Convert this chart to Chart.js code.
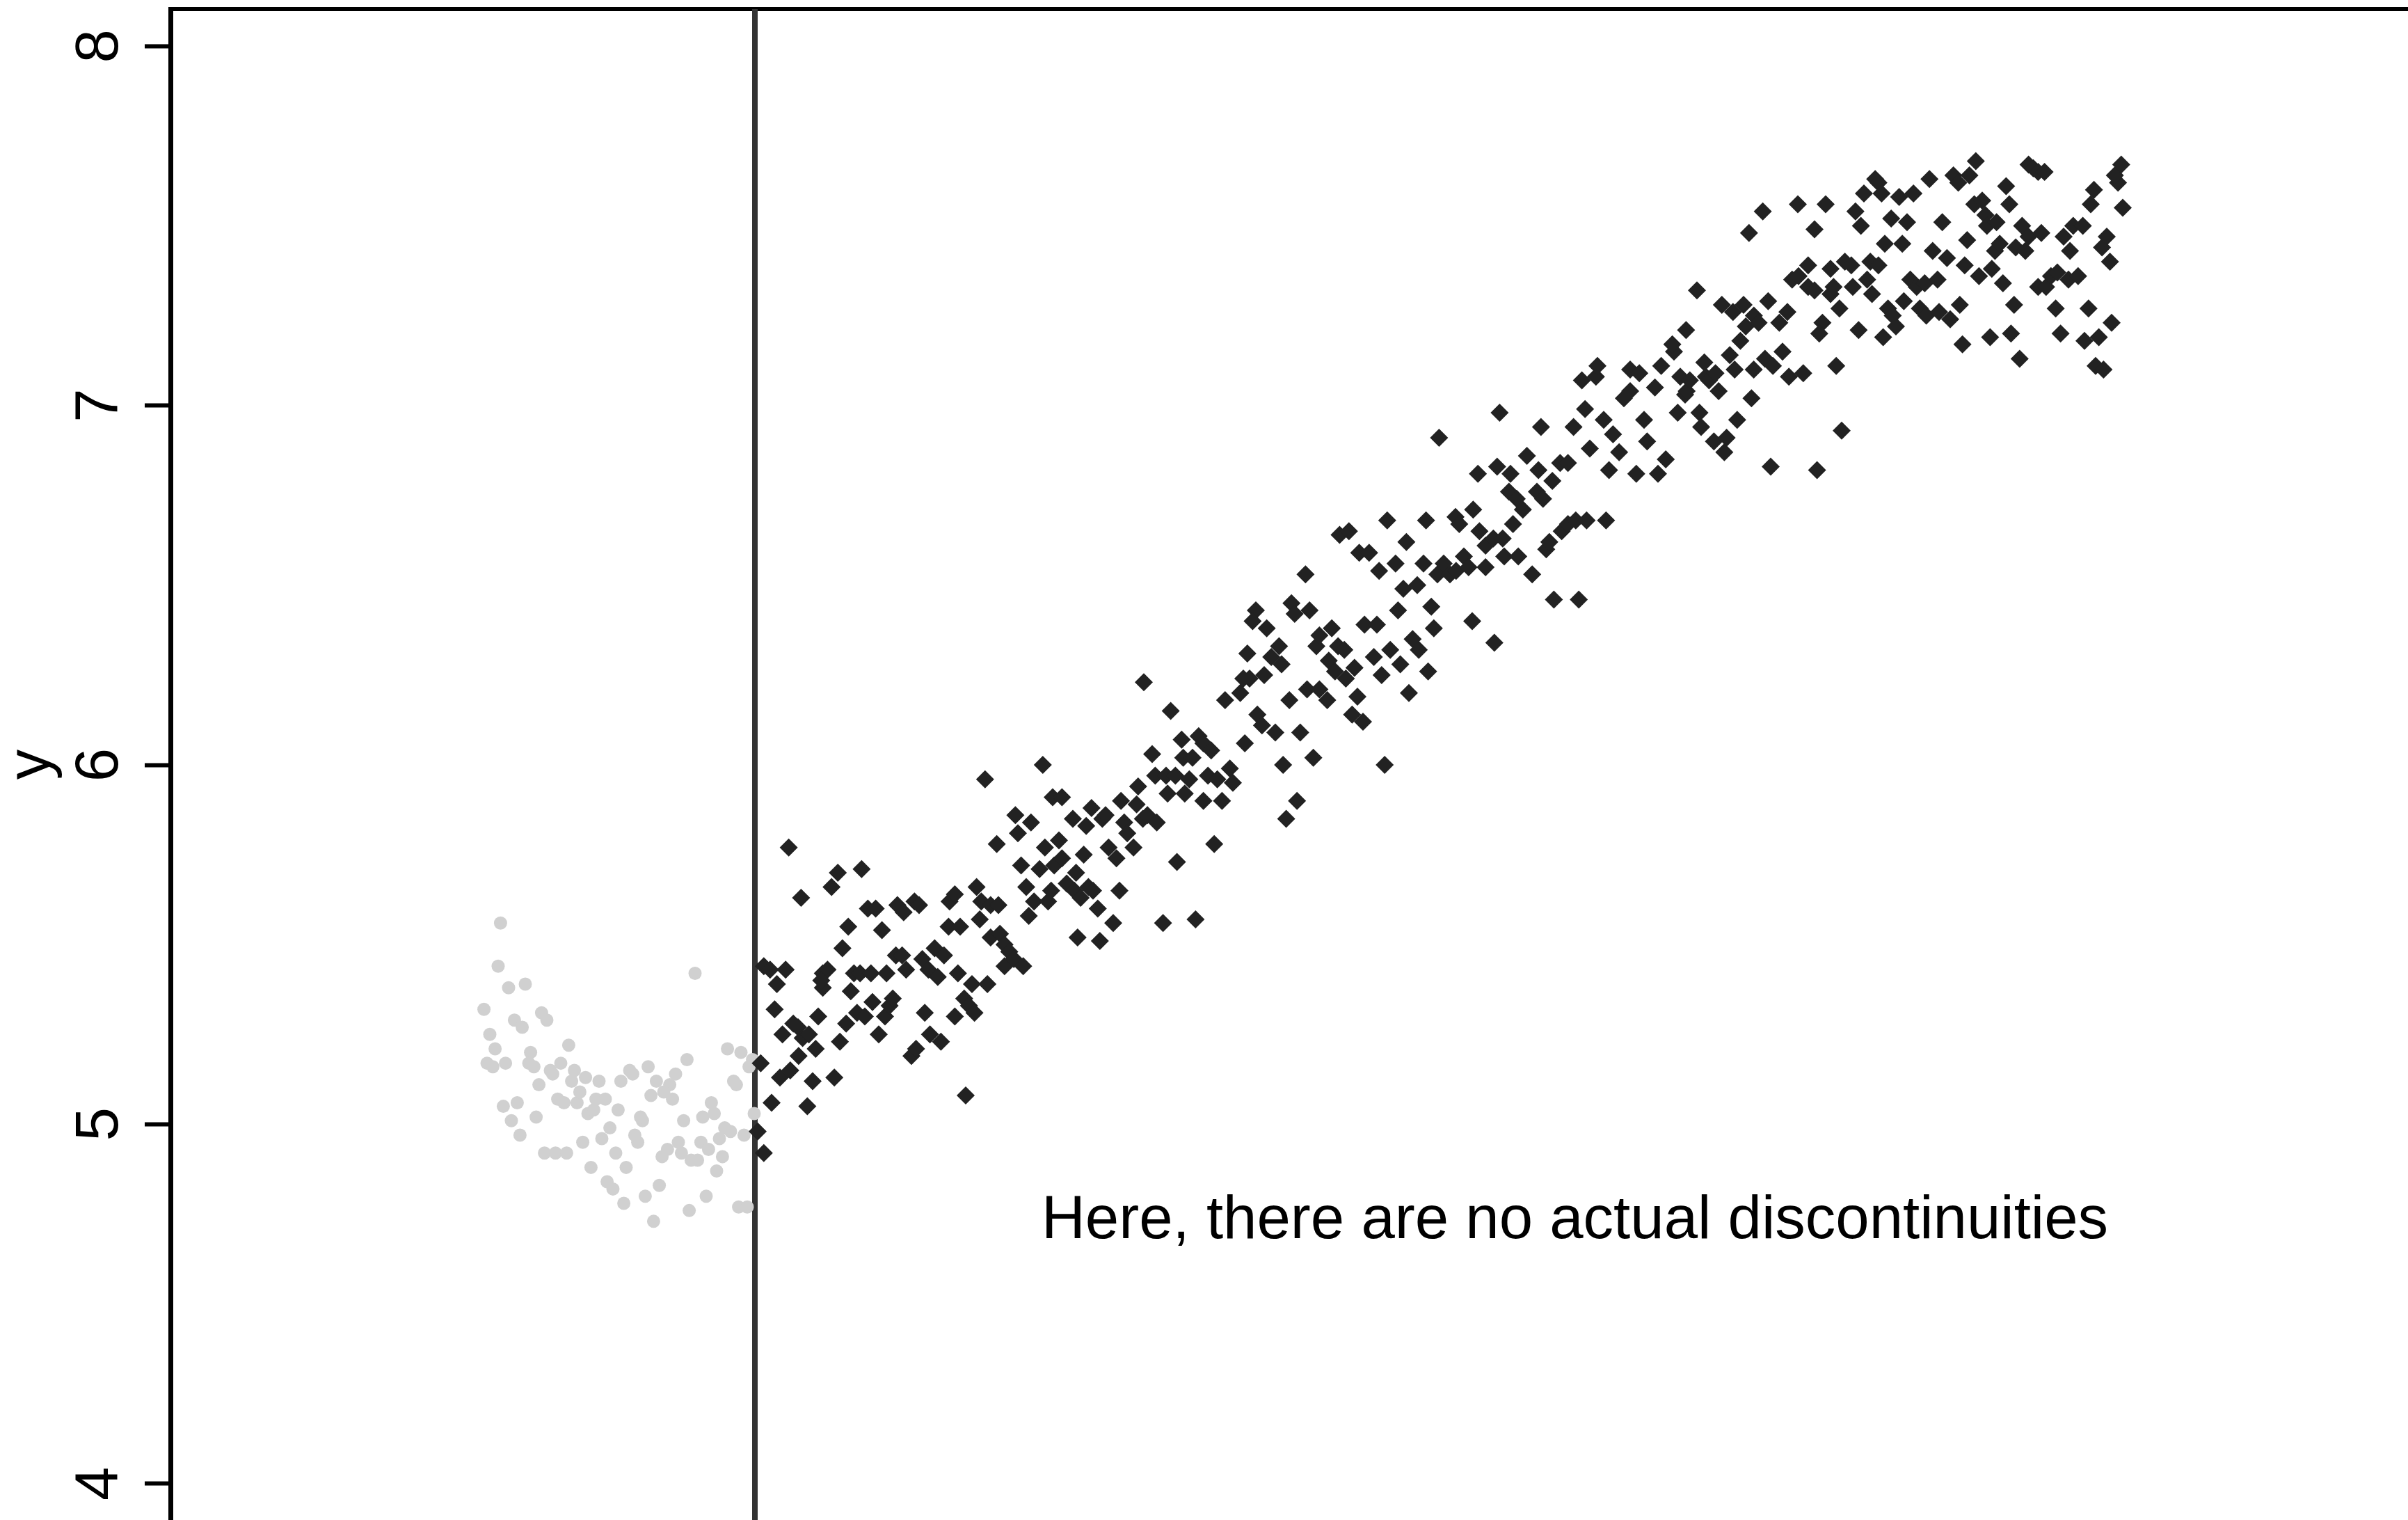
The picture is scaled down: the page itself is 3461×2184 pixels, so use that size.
<!DOCTYPE html>
<html>
<head>
<meta charset="utf-8">
<script src="https://cdn.jsdelivr.net/npm/chart.js@4/dist/chart.umd.min.js"></script>
<style>html,body{margin:0;padding:0;background:#fff;overflow:hidden}canvas{display:block}</style>
</head>
<body>
<canvas id="c" width="3461" height="2184"></canvas>
<script>
// Left of the cutoff (light grey circles): [x, y]
const leftPoints = [
[-18.28,5.56],[-18.45,5.44],[-16.50,5.39],[-17.70,5.38],[-19.47,5.32],[-17.28,5.29],[-15.33,5.31],[-14.95,5.29],
[-16.72,5.27],[-19.05,5.25],[-18.67,5.21],[-13.38,5.22],[-16.12,5.20],[-19.25,5.17],[-18.83,5.16],[-17.92,5.17],
[-16.25,5.17],[-15.88,5.16],[-13.95,5.17],[-14.70,5.15],[-14.53,5.14],[-12.97,5.15],[-13.17,5.12],[-12.17,5.13],
[-11.20,5.12],[-15.52,5.11],[-9.63,5.12],[-9.00,5.15],[-8.78,5.14],[-7.67,5.16],[-4.88,5.18],[-5.70,5.14],
[-7.08,5.12],[-6.12,5.11],[-6.55,5.09],[-7.47,5.08],[-5.92,5.07],[-4.30,5.42],[-1.97,5.21],[-1.00,5.20],
[-0.17,5.18],[-0.42,5.16],[-1.53,5.12],[-1.33,5.11],[-3.13,5.06],[-2.92,5.03],[-3.75,5.02],[-5.12,5.01],
[-0.05,5.03],[-2.17,4.99],[-1.75,4.98],[-0.78,4.97],[-2.55,4.96],[-3.88,4.95],[-3.33,4.93],[-2.33,4.91],
[-2.75,4.87],[-5.50,4.95],[-6.28,4.93],[-6.67,4.91],[-5.28,4.92],[-4.58,4.90],[-4.12,4.90],[-3.50,4.80],
[-1.17,4.77],[-0.55,4.77],[-4.72,4.76],[-6.87,4.83],[-7.88,4.80],[-7.28,4.73],[-9.42,4.78],[-10.62,4.84],
[-10.20,4.82],[-9.25,4.88],[-11.78,4.88],[-10.00,4.92],[-12.37,4.95],[-11.00,4.96],[-8.42,4.95],[-8.63,4.97],
[-10.42,4.99],[-8.08,5.01],[-8.22,5.02],[-9.83,5.04],[-12.00,5.03],[-11.58,5.04],[-12.78,5.06],[-12.58,5.09],
[-11.42,5.07],[-10.75,5.07],[-14.17,5.07],[-13.72,5.06],[-15.12,4.92],[-14.33,4.92],[-13.53,4.92],[-18.08,5.05],
[-17.08,5.06],[-17.50,5.01],[-15.72,5.02],[-16.88,4.97]
];

// Right of the cutoff (black diamonds): [x, y]
const rightPoints = [
[0.64,4.92],[0.20,4.98],[0.42,5.17],[1.20,5.06],[1.80,5.13],[2.54,5.15],[3.77,5.05],[4.15,5.12],[5.71,5.13],
[3.14,5.19],[1.98,5.25],[2.76,5.28],[3.10,5.27],[3.43,5.24],[3.88,5.25],[4.37,5.21],[1.42,5.32],[4.55,5.30],
[6.11,5.23],[6.56,5.28],[0.64,5.44],[1.09,5.43],[2.21,5.43],[1.58,5.39],[2.43,5.77],[3.32,5.63],[5.51,5.66],
[5.96,5.70],[7.67,5.71],[4.88,5.42],[5.22,5.43],[4.88,5.38],[4.77,5.40],[6.29,5.49],[6.71,5.55],[6.89,5.37],
[7.12,5.42],[7.56,5.42],[8.34,5.42],[9.46,5.42],[7.34,5.31],[7.90,5.30],[8.45,5.34],[8.90,5.25],[9.13,5.54],
[8.12,5.60],[8.68,5.60],[9.35,5.30],[9.68,5.33],[9.91,5.35],[10.24,5.61],[10.69,5.59],[11.47,5.62],[11.80,5.61],
[10.13,5.47],[10.58,5.47],[10.87,5.43],[12.03,5.46],[12.47,5.43],[12.92,5.49],[13.59,5.47],[13.14,5.41],
[11.25,5.19],[11.58,5.21],[12.21,5.31],[12.58,5.25],[13.37,5.23],[13.99,5.62],[14.37,5.64],[13.92,5.55],
[14.75,5.55],[14.59,5.42],[14.37,5.30],[15.04,5.35],[15.38,5.33],[15.78,5.31],[15.15,5.08],[15.60,5.39],
[16.71,5.39],[15.93,5.66],[16.27,5.62],[16.16,5.57],[16.94,5.61],[17.50,5.61],[16.94,5.52],[17.61,5.53],
[17.94,5.50],[18.28,5.48],[17.94,5.44],[18.61,5.46],[19.28,5.44],[16.54,5.96],[17.38,5.78],[18.72,5.86],
[18.90,5.81],[19.84,5.84],[19.13,5.72],[19.50,5.66],[19.68,5.58],[20.06,5.62],[20.46,5.71],[20.69,6.00],
[20.84,5.77],[21.07,5.62],[21.29,5.65],[21.40,5.91],[22.07,5.91],[21.85,5.79],[21.51,5.72],[22.07,5.74],
[22.41,5.67],[22.85,5.85],[23.08,5.70],[23.19,5.52],[22.96,5.65],[23.41,5.63],[23.63,5.75],[23.81,5.83],
[23.97,5.66],[24.30,5.65],[24.19,5.88],[24.64,5.60],[24.79,5.51],[24.97,5.85],[25.20,5.86],[25.42,5.77],
[25.75,5.56],[25.98,5.74],[26.20,5.65],[26.31,5.90],[26.54,5.84],[26.76,5.81],[27.21,5.77],[27.43,5.89],
[27.54,5.94],[27.88,5.85],[28.21,5.86],[28.55,6.03],[28.77,5.97],[28.88,5.84],[29.33,5.56],[29.55,5.97],
[29.66,5.92],[29.88,6.15],[30.22,5.97],[30.33,5.73],[30.67,6.07],[30.78,6.02],[30.89,5.92],[31.22,5.96],
[31.45,6.02],[31.67,5.57],[31.89,6.08],[32.23,6.06],[32.23,5.90],[32.56,5.97],[32.79,6.04],[33.01,5.78],
[33.23,5.96],[33.57,5.90],[33.79,6.18],[34.13,5.99],[34.35,5.95],[27.95,6.23],
[38.18,5.85],[38.96,5.90],[37.96,6.00],[40.13,6.02],[45.26,6.00],[35.21,6.06],[36.11,6.14],[36.44,6.11],
[37.40,6.09],[39.19,6.09],[34.88,6.20],[35.10,6.24],[35.55,6.24],[36.60,6.25],[35.39,6.31],[37.11,6.30],
[37.67,6.33],[37.85,6.28],[38.41,6.18],[39.68,6.21],[40.57,6.21],[41.13,6.18],[42.47,6.24],[43.30,6.19],
[42.92,6.14],[43.70,6.12],[41.24,6.29],[41.69,6.26],[43.09,6.27],[40.35,6.33],[40.57,6.36],[41.46,6.38],
[41.91,6.33],[42.36,6.32],[44.48,6.30],[45.04,6.25],[45.66,6.32],[46.38,6.28],[47.00,6.20],[47.27,6.35],
[47.71,6.32],[48.38,6.26],[43.81,6.39],[44.70,6.39],[38.56,6.45],[38.79,6.42],[39.86,6.43],[36.00,6.43],
[35.77,6.40],[36.78,6.38],[39.57,6.53],[46.22,6.43],[48.61,6.44],[48.79,6.38],[51.55,6.40],[53.14,6.34],
[46.60,6.49],[47.60,6.50],[44.86,6.54],[46.04,6.56],[48.05,6.56],[49.05,6.53],[49.50,6.56],[49.95,6.53],
[50.39,6.54],[50.95,6.58],[51.29,6.55],[52.51,6.55],[42.02,6.64],[42.69,6.65],[43.43,6.59],[44.14,6.59],
[45.44,6.68],[46.82,6.62],[48.23,6.68],[50.35,6.69],[50.62,6.67],[51.62,6.71],[52.07,6.65],[52.51,6.61],
[53.07,6.63],[53.74,6.63],[53.85,6.58],[54.86,6.58],[54.48,6.67],[54.19,6.76],[54.75,6.74],[55.19,6.71],
[55.86,6.53],[56.20,6.76],[56.64,6.74],[56.87,6.60],[57.09,6.62],[57.42,6.46],[57.98,6.65],[58.43,6.67],
[58.99,6.68],[59.77,6.68],[59.21,6.46],[61.17,6.68],[51.96,6.81],[53.34,6.83],[54.30,6.81],[55.48,6.86],
[56.31,6.82],[57.31,6.79],[57.87,6.84],[58.43,6.84],[49.17,6.91],[53.52,6.98],[56.49,6.94],[58.83,6.94],
[60.00,6.88],[59.66,6.99],[61.00,6.96],[61.67,6.92],[62.11,6.87],[61.38,6.82],[63.34,6.81],[64.90,6.81],
[65.46,6.85],[64.12,6.90],[63.90,6.96],[62.45,7.02],[62.90,7.04],[64.68,7.05],[59.43,7.07],[60.44,7.08],
[60.55,7.11],[62.90,7.10],[63.56,7.09],[65.13,7.11],
[66.32,6.98],[66.85,7.03],[67.88,6.98],[68.00,6.94],[68.92,6.90],[69.67,6.87],[69.83,6.91],[70.59,6.96],
[71.62,7.02],[73.00,6.83],[76.33,6.82],[78.10,6.93],[66.50,7.08],[66.96,7.04],[67.19,7.07],[68.34,7.08],
[68.57,7.07],[69.03,7.09],[69.26,7.04],[68.23,7.12],[70.41,7.10],[71.78,7.10],[66.05,7.15],[65.93,7.17],
[66.92,7.21],[70.06,7.14],[70.82,7.18],[71.21,7.22],[71.79,7.25],[72.13,7.23],[72.59,7.13],[73.16,7.11],
[73.62,7.23],[73.85,7.15],[74.20,7.26],[74.31,7.08],[75.34,7.09],[77.71,7.11],[67.70,7.32],[69.49,7.28],
[70.29,7.26],[71.05,7.28],[72.82,7.29],[74.54,7.35],[75.00,7.36],[75.69,7.33],[76.15,7.32],[75.69,7.39],
[76.72,7.23],[76.49,7.20],[77.30,7.38],[77.30,7.31],[77.52,7.33],[77.94,7.27],[78.33,7.40],[78.79,7.39],
[78.90,7.33],[79.32,7.21],[79.93,7.35],[80.16,7.40],[80.28,7.31],[80.74,7.39],[81.08,7.19],[81.43,7.27],
[81.77,7.25],[82.00,7.22],[81.20,7.45],[82.46,7.45],[82.57,7.29],[83.03,7.35],[83.49,7.33],[83.72,7.27],
[84.07,7.34],[84.18,7.25],[84.99,7.35],[85.10,7.26],[85.90,7.24],[86.59,7.28],[86.78,7.17],[84.64,7.43],
[85.67,7.41],[86.94,7.39],[87.12,7.46],[87.97,7.36],[88.89,7.38],[88.77,7.19],[89.69,7.34],[90.49,7.28],
[90.27,7.20],[90.89,7.13],[89.12,7.43],[89.46,7.45],[90.61,7.44],[91.30,7.43],[91.07,7.50],[91.53,7.47],
[92.45,7.48],[92.22,7.33],[92.79,7.33],[93.14,7.36],[93.48,7.27],[93.83,7.20],[93.60,7.37],[94.05,7.47],
[94.51,7.43],[94.74,7.50],[95.43,7.50],[94.40,7.35],[95.09,7.36],[95.84,7.27],[95.55,7.18],[96.58,7.19],
[96.35,7.11],[96.92,7.10],[97.50,7.23],[96.81,7.44],[97.15,7.47],[97.38,7.40],[96.00,7.56],[96.23,7.60],
[98.30,7.55],[97.96,7.62],[97.73,7.64],[98.19,7.67],[89.92,7.61],[90.15,7.56],[87.63,7.56],[88.20,7.57],
[88.43,7.53],[88.54,7.50],[89.23,7.51],[87.74,7.68],[87.28,7.64],[86.13,7.64],[86.48,7.62],[84.41,7.63],
[85.33,7.51],[83.26,7.59],[82.23,7.58],[82.80,7.51],[81.66,7.52],[80.51,7.63],[80.74,7.62],[80.97,7.59],
[79.70,7.59],[79.09,7.54],[79.48,7.50],[76.95,7.56],[76.15,7.49],[74.95,7.56],[72.43,7.54],[71.44,7.48],
[91.53,7.67],[91.87,7.66],[92.22,7.65],[92.68,7.65]
];

const yTicks = [4, 5, 6, 7, 8];
const yRange = [3.899, 8.103];
const xRange = [-42, 118.8];
const cutoff = 0;
const yTitle = 'y';
const note = { text: 'Here, there are no actual discontinuities', x: 20.6, y: 4.683 };

const FONT = "'Liberation Sans', Arial, Helvetica, sans-serif";
const FS = 87;

const notePlugin = {
  id: 'note',
  afterDatasetsDraw(chart) {
    const { ctx, scales } = chart;
    ctx.save();
    ctx.font = FS + 'px ' + FONT;
    ctx.fillStyle = '#000';
    ctx.textAlign = 'left';
    ctx.textBaseline = 'alphabetic';
    ctx.fillText(note.text, scales.x.getPixelForValue(note.x), scales.y.getPixelForValue(note.y));
    ctx.restore();
  }
};

new Chart(document.getElementById('c'), {
  type: 'scatter',
  data: {
    datasets: [
      {
        label: 'right', data: rightPoints.map(p => ({ x: p[0], y: p[1] })),
        pointStyle: 'rectRot', pointRadius: 13, backgroundColor: '#222222', borderWidth: 0
      },
      {
        label: 'left', data: leftPoints.map(p => ({ x: p[0], y: p[1] })),
        pointStyle: 'circle', pointRadius: 9.5, backgroundColor: '#d0d0d0', borderWidth: 0
      },
      {
        label: 'cutoff', data: [{ x: cutoff, y: yRange[0] }, { x: cutoff, y: yRange[1] }],
        showLine: true, pointRadius: 0, borderColor: '#333333', borderWidth: 8, fill: false
      }
    ]
  },
  options: {
    responsive: false,
    animation: false,
    devicePixelRatio: 1,
    layout: { autoPadding: false, padding: { top: 13, right: 0, bottom: 0, left: 0 } },
    plugins: { legend: { display: false }, tooltip: { enabled: false } },
    scales: {
      x: {
        type: 'linear', position: 'top', min: xRange[0], max: xRange[1],
        grid: { display: false, drawTicks: false },
        ticks: { display: false },
        border: { display: true, color: '#000', width: 6 },
        afterFit(s) { s.height = 0; s.paddingLeft = 0; s.paddingRight = 0; }
      },
      y: {
        type: 'linear', position: 'left', min: yRange[0], max: yRange[1],
        afterBuildTicks(s) { s.ticks = yTicks.map(v => ({ value: v })); },
        afterFit(s) { s.width = 245; s.paddingTop = 0; s.paddingBottom = 0; },
        grid: { drawOnChartArea: false, drawTicks: true, tickLength: 37, tickWidth: 6, tickColor: '#000' },
        border: { display: true, color: '#000', width: 7 },
        ticks: {
          padding: 39, minRotation: 90, maxRotation: 90, crossAlign: 'center', autoSkip: false,
          color: '#000', font: { family: FONT, size: FS }, callback: v => String(v)
        },
        title: {
          display: true, text: yTitle, color: '#000',
          font: { family: FONT, size: FS, lineHeight: 1 }, padding: { top: 4, bottom: 0 }
        }
      }
    }
  },
  plugins: [notePlugin]
});
</script>
</body>
</html>
